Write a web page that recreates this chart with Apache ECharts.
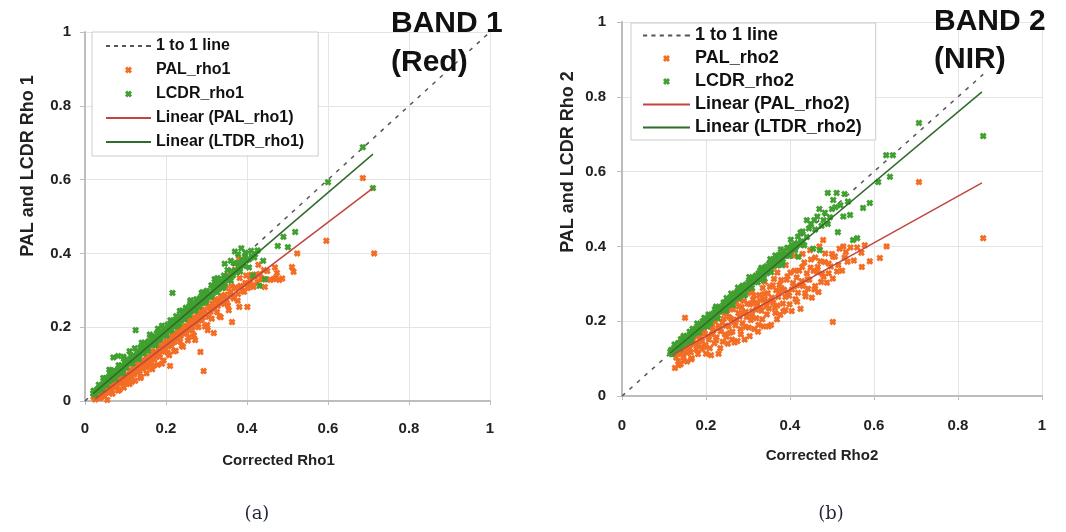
<!DOCTYPE html>
<html>
<head>
<meta charset="utf-8">
<script src="https://cdn.jsdelivr.net/npm/echarts/dist/echarts.min.js"></script>
<style>
html,body{margin:0;padding:0;background:#fff;}
#chart{width:1066px;height:532px;}
</style>
</head>
<body>
<div id="chart"></div>
<script>
// ---------- Panel (a): BAND 1 (Red) ----------
var oneToOneA = [[0, 0], [1, 1]];
var palRho1 = [
[0.022,0.010],[0.025,0.004],[0.028,0.016],[0.031,0.012],[0.034,0.020],[0.037,0.008],[0.040,0.018],[0.043,0.026],[0.046,0.015],[0.049,0.030],
[0.052,0.022],[0.055,0.003],[0.056,0.034],[0.059,0.026],[0.062,0.040],[0.065,0.030],[0.068,0.020],[0.070,0.044],[0.073,0.036],[0.076,0.052],
[0.079,0.040],[0.082,0.028],[0.084,0.058],[0.087,0.047],[0.090,0.062],[0.093,0.050],[0.096,0.036],[0.098,0.068],[0.101,0.056],[0.104,0.072],
[0.107,0.060],[0.110,0.046],[0.112,0.080],[0.115,0.066],[0.118,0.085],[0.121,0.072],[0.124,0.055],[0.126,0.090],[0.129,0.078],[0.132,0.096],
[0.135,0.082],[0.138,0.066],[0.140,0.102],[0.143,0.088],[0.146,0.108],[0.149,0.094],[0.152,0.075],[0.154,0.114],[0.157,0.100],[0.160,0.120],
[0.163,0.106],[0.166,0.086],[0.168,0.128],[0.171,0.112],[0.174,0.134],[0.177,0.120],[0.180,0.098],[0.182,0.140],[0.185,0.126],[0.188,0.148],
[0.191,0.134],[0.194,0.110],[0.196,0.156],[0.199,0.140],[0.202,0.162],[0.205,0.148],[0.208,0.124],[0.210,0.095],[0.212,0.170],[0.215,0.156],
[0.218,0.176],[0.221,0.160],[0.224,0.136],[0.227,0.184],[0.230,0.168],[0.233,0.190],[0.236,0.176],[0.239,0.150],[0.242,0.198],[0.245,0.182],
[0.248,0.204],[0.251,0.190],[0.254,0.164],[0.257,0.212],[0.260,0.196],[0.263,0.218],[0.266,0.204],[0.269,0.178],[0.272,0.226],[0.275,0.210],
[0.278,0.232],[0.281,0.218],[0.285,0.133],[0.288,0.240],[0.291,0.226],[0.293,0.081],[0.295,0.248],[0.298,0.234],[0.302,0.206],[0.303,0.192],
[0.306,0.256],[0.310,0.242],[0.314,0.264],[0.318,0.184],[0.320,0.250],[0.324,0.272],[0.328,0.258],[0.332,0.230],[0.336,0.280],[0.340,0.266],
[0.345,0.288],[0.350,0.274],[0.355,0.246],[0.360,0.296],[0.363,0.214],[0.366,0.282],[0.372,0.305],[0.378,0.290],[0.381,0.255],[0.384,0.312],
[0.390,0.298],[0.396,0.320],[0.401,0.255],[0.402,0.306],[0.408,0.328],[0.414,0.314],[0.420,0.336],[0.426,0.322],[0.432,0.344],[0.438,0.330],
[0.444,0.309],[0.450,0.352],[0.458,0.328],[0.465,0.330],[0.470,0.333],[0.474,0.347],[0.480,0.328],[0.487,0.332],[0.469,0.362],[0.511,0.363],
[0.515,0.350],[0.524,0.400],[0.596,0.434],[0.686,0.604],[0.714,0.400],
[0.100,0.095],[0.150,0.140],[0.200,0.195],[0.250,0.240],[0.300,0.290],[0.350,0.340],[0.380,0.385],[0.330,0.318],[0.370,0.356],
[0.021,0.012],[0.027,0.008],[0.033,0.024],[0.038,0.008],[0.044,0.028],[0.048,0.012],[0.053,0.042],[0.058,0.028],[0.063,0.042],[0.067,0.020],
[0.071,0.053],[0.075,0.038],[0.080,0.053],[0.085,0.030],[0.088,0.071],[0.092,0.055],[0.097,0.072],[0.100,0.050],[0.103,0.089],[0.108,0.063],
[0.111,0.081],[0.116,0.052],[0.119,0.093],[0.123,0.082],[0.127,0.106],[0.131,0.078],[0.134,0.097],[0.137,0.062],[0.142,0.111],[0.145,0.097],
[0.148,0.130],[0.153,0.091],[0.156,0.117],[0.161,0.106],[0.164,0.135],[0.169,0.095],[0.172,0.128],[0.176,0.124],[0.179,0.152],[0.183,0.120],
[0.187,0.146],[0.190,0.101],[0.193,0.156],[0.197,0.139],[0.201,0.176],[0.204,0.131],[0.209,0.161],[0.213,0.149],[0.217,0.180],[0.220,0.135],
[0.223,0.177],[0.227,0.169],[0.231,0.197],[0.235,0.161],[0.238,0.186],[0.242,0.147],[0.246,0.199],[0.250,0.184],[0.253,0.221],[0.257,0.173],
[0.261,0.202],[0.265,0.191],[0.268,0.224],[0.272,0.165],[0.276,0.219],[0.280,0.200],[0.284,0.242],[0.288,0.218],[0.292,0.237],[0.296,0.202],
[0.300,0.264],[0.305,0.228],[0.309,0.254],[0.313,0.223],[0.318,0.252],[0.322,0.276],[0.326,0.241],[0.331,0.267],[0.335,0.227],[0.339,0.284],
[0.344,0.263],[0.348,0.306],[0.353,0.259],[0.358,0.289],[0.362,0.311],[0.367,0.278],[0.372,0.308],[0.377,0.272],[0.382,0.333],[0.387,0.308],
[0.393,0.296],[0.398,0.340],[0.404,0.316],[0.410,0.342],[0.416,0.309],[0.422,0.343],[0.428,0.369],[0.435,0.333],[0.442,0.355],[0.448,0.330]
];
var lcdrRho1 = [
[0.020,0.021],[0.024,0.020],[0.027,0.028],[0.030,0.031],[0.033,0.029],[0.036,0.036],[0.038,0.040],[0.041,0.037],[0.044,0.045],[0.046,0.048],
[0.049,0.044],[0.052,0.052],[0.055,0.056],[0.057,0.060],[0.060,0.054],[0.063,0.062],[0.065,0.068],[0.068,0.064],[0.071,0.070],[0.073,0.075],
[0.076,0.079],[0.079,0.072],[0.081,0.080],[0.084,0.086],[0.087,0.083],[0.089,0.090],[0.092,0.095],[0.095,0.088],[0.097,0.094],[0.100,0.101],
[0.103,0.099],[0.106,0.107],[0.108,0.111],[0.111,0.103],[0.114,0.110],[0.116,0.116],[0.119,0.121],[0.122,0.113],[0.124,0.118],[0.127,0.125],
[0.130,0.130],[0.132,0.122],[0.135,0.129],[0.138,0.136],[0.140,0.140],[0.143,0.131],[0.146,0.139],[0.149,0.146],[0.151,0.150],[0.154,0.142],
[0.157,0.150],[0.159,0.155],[0.162,0.160],[0.165,0.153],[0.168,0.159],[0.170,0.165],[0.173,0.170],[0.176,0.162],[0.178,0.168],[0.181,0.174],
[0.184,0.179],[0.187,0.171],[0.189,0.178],[0.192,0.184],[0.195,0.190],[0.198,0.181],[0.200,0.188],[0.203,0.195],[0.206,0.199],[0.209,0.190],
[0.212,0.198],[0.215,0.205],[0.218,0.209],[0.221,0.201],[0.224,0.208],[0.227,0.216],[0.230,0.219],[0.233,0.210],[0.236,0.218],[0.239,0.226],
[0.242,0.231],[0.245,0.222],[0.248,0.230],[0.251,0.238],[0.254,0.242],[0.257,0.233],[0.260,0.241],[0.263,0.250],[0.266,0.254],[0.270,0.246],
[0.273,0.252],[0.276,0.262],[0.279,0.265],[0.282,0.256],[0.286,0.264],[0.289,0.274],[0.292,0.278],[0.296,0.268],[0.299,0.276],[0.303,0.287],
[0.306,0.290],[0.310,0.281],[0.314,0.289],[0.318,0.300],[0.322,0.305],[0.326,0.295],[0.330,0.303],[0.334,0.315],[0.338,0.320],[0.342,0.311],
[0.346,0.318],[0.350,0.331],[0.355,0.336],[0.360,0.326],[0.365,0.340],[0.370,0.352],[0.375,0.348],[0.380,0.360],[0.386,0.372],[0.392,0.366],
[0.398,0.380],[0.405,0.384],[0.412,0.392],[0.420,0.398],
[0.045,0.062],[0.060,0.085],[0.070,0.118],[0.082,0.122],[0.095,0.120],[0.110,0.135],[0.125,0.192],[0.140,0.158],[0.160,0.180],[0.180,0.196],
[0.216,0.293],[0.240,0.245],[0.260,0.270],[0.290,0.295],[0.320,0.330],[0.345,0.372],[0.360,0.380],[0.370,0.405],[0.386,0.414],[0.378,0.398],
[0.395,0.392],[0.405,0.362],[0.415,0.340],[0.431,0.312],[0.444,0.330],[0.440,0.380],[0.476,0.420],[0.501,0.417],[0.519,0.458],[0.490,0.445],
[0.600,0.593],[0.686,0.688],[0.711,0.577],
[0.021,0.028],[0.026,0.017],[0.034,0.044],[0.039,0.039],[0.043,0.031],[0.048,0.061],[0.051,0.053],[0.054,0.045],[0.058,0.065],[0.062,0.079],
[0.066,0.058],[0.069,0.072],[0.072,0.083],[0.075,0.061],[0.078,0.077],[0.083,0.097],[0.086,0.079],[0.090,0.096],[0.093,0.075],[0.096,0.114],
[0.099,0.099],[0.102,0.091],[0.105,0.112],[0.109,0.104],[0.113,0.124],[0.117,0.102],[0.120,0.122],[0.123,0.143],[0.126,0.115],[0.129,0.133],
[0.133,0.114],[0.137,0.145],[0.141,0.137],[0.144,0.128],[0.147,0.158],[0.150,0.149],[0.155,0.136],[0.158,0.163],[0.161,0.152],[0.164,0.176],
[0.167,0.152],[0.171,0.171],[0.174,0.151],[0.177,0.183],[0.180,0.172],[0.183,0.166],[0.186,0.188],[0.190,0.204],[0.193,0.179],[0.197,0.194],
[0.201,0.177],[0.204,0.207],[0.207,0.199],[0.211,0.219],[0.214,0.193],[0.219,0.217],[0.222,0.210],[0.225,0.230],[0.228,0.204],[0.231,0.224],
[0.234,0.244],[0.237,0.219],[0.240,0.239],[0.243,0.230],[0.246,0.222],[0.249,0.253],[0.252,0.243],[0.255,0.234],[0.258,0.257],[0.261,0.273],
[0.264,0.245],[0.268,0.262],[0.272,0.245],[0.275,0.276],[0.278,0.264],[0.281,0.257],[0.284,0.279],[0.288,0.293],[0.291,0.272],[0.294,0.284],
[0.298,0.268],[0.301,0.299],[0.305,0.291],[0.309,0.283],[0.312,0.314],[0.316,0.306],[0.320,0.296],[0.323,0.317],[0.327,0.333],[0.331,0.308],
[0.335,0.325],[0.339,0.306],[0.343,0.340],[0.347,0.330],[0.352,0.355],[0.357,0.329],[0.362,0.352],[0.367,0.374],[0.372,0.352],[0.377,0.374],
[0.383,0.351],[0.389,0.381],[0.396,0.402],[0.403,0.385],[0.410,0.407],[0.418,0.389],[0.426,0.408]
];
var palFit1 = [[0.025, 0.005], [0.711, 0.577]];
var lcdrFit1 = [[0.020, 0.020], [0.711, 0.669]];

// ---------- Panel (b): BAND 2 (NIR) ----------
var oneToOneB = [[0, 0], [0.86, 0.86]];
var palRho2 = [
[0.126,0.127],[0.129,0.103],[0.131,0.125],[0.134,0.093],[0.137,0.142],[0.139,0.123],[0.142,0.118],[0.145,0.156],[0.147,0.095],[0.150,0.139],
[0.153,0.135],[0.155,0.115],[0.158,0.150],[0.161,0.127],[0.163,0.162],[0.166,0.101],[0.169,0.147],[0.171,0.139],[0.174,0.178],[0.177,0.124],
[0.179,0.161],[0.182,0.137],[0.185,0.152],[0.187,0.171],[0.190,0.125],[0.192,0.172],[0.195,0.131],[0.197,0.167],[0.200,0.113],[0.202,0.193],
[0.205,0.160],[0.207,0.151],[0.210,0.212],[0.212,0.109],[0.215,0.183],[0.217,0.174],[0.220,0.141],[0.222,0.198],[0.225,0.157],[0.227,0.215],
[0.230,0.113],[0.232,0.186],[0.235,0.173],[0.237,0.236],[0.240,0.145],[0.242,0.206],[0.245,0.165],[0.247,0.188],[0.250,0.220],[0.252,0.140],
[0.255,0.211],[0.257,0.169],[0.260,0.206],[0.262,0.151],[0.265,0.232],[0.267,0.198],[0.270,0.189],[0.272,0.251],[0.275,0.147],[0.277,0.222],
[0.280,0.212],[0.282,0.179],[0.285,0.237],[0.287,0.195],[0.290,0.254],[0.292,0.151],[0.295,0.225],[0.297,0.211],[0.300,0.275],[0.302,0.183],
[0.305,0.245],[0.307,0.203],[0.310,0.227],[0.312,0.258],[0.315,0.179],[0.317,0.249],[0.320,0.208],[0.322,0.244],[0.325,0.190],[0.327,0.270],
[0.330,0.237],[0.332,0.228],[0.335,0.289],[0.337,0.186],[0.340,0.260],[0.342,0.251],[0.345,0.218],[0.347,0.275],[0.350,0.234],[0.352,0.292],
[0.355,0.190],[0.357,0.263],[0.360,0.250],[0.362,0.313],[0.365,0.222],[0.367,0.283],[0.370,0.242],[0.372,0.265],[0.375,0.297],[0.377,0.217],
[0.380,0.288],[0.383,0.247],[0.386,0.284],[0.389,0.230],[0.392,0.311],[0.395,0.277],[0.398,0.268],[0.401,0.330],[0.404,0.227],[0.407,0.302],
[0.410,0.293],[0.413,0.259],[0.416,0.317],[0.419,0.276],[0.422,0.335],[0.425,0.233],[0.428,0.307],[0.431,0.294],[0.434,0.357],[0.437,0.266],
[0.440,0.328],[0.443,0.287],[0.446,0.311],[0.449,0.343],[0.452,0.263],[0.456,0.335],[0.460,0.294],[0.464,0.332],[0.468,0.278],[0.472,0.360],
[0.476,0.327],[0.480,0.319],[0.484,0.381],[0.488,0.303],[0.492,0.354],[0.497,0.346],[0.502,0.314],[0.507,0.373],[0.512,0.333],[0.518,0.394],
[0.524,0.335],[0.530,0.370],[0.537,0.359],[0.544,0.397],[0.552,0.362],[0.560,0.397],[0.570,0.383],[0.578,0.403],
[0.210,0.200],[0.250,0.233],[0.280,0.258],[0.310,0.280],[0.340,0.305],[0.370,0.330],[0.390,0.350],[0.410,0.375],[0.430,0.380],[0.360,0.345],[0.380,0.375],
[0.140,0.085],[0.155,0.092],[0.165,0.098],
[0.150,0.209],[0.126,0.075],[0.135,0.082],[0.502,0.198],[0.448,0.390],[0.470,0.400],[0.479,0.417],[0.571,0.345],[0.614,0.369],[0.630,0.400],
[0.707,0.572],[0.860,0.422],[0.527,0.400],[0.460,0.370],[0.500,0.380],[0.590,0.360],
[0.133,0.112],[0.140,0.131],[0.146,0.108],[0.152,0.124],[0.159,0.141],[0.164,0.117],[0.170,0.158],[0.176,0.139],[0.181,0.112],[0.186,0.165],
[0.191,0.147],[0.196,0.176],[0.199,0.136],[0.204,0.186],[0.209,0.128],[0.214,0.165],[0.219,0.205],[0.224,0.149],[0.229,0.181],[0.234,0.128],
[0.239,0.196],[0.244,0.222],[0.249,0.158],[0.254,0.186],[0.259,0.232],[0.263,0.172],[0.268,0.143],[0.273,0.204],[0.278,0.239],[0.283,0.165],
[0.289,0.222],[0.294,0.185],[0.299,0.247],[0.304,0.160],[0.309,0.214],[0.314,0.268],[0.319,0.231],[0.324,0.172],[0.329,0.256],[0.334,0.205],
[0.339,0.273],[0.344,0.240],[0.349,0.186],[0.354,0.255],[0.359,0.296],[0.364,0.236],[0.369,0.205],[0.374,0.279],[0.379,0.310],[0.384,0.226],
[0.389,0.265],[0.394,0.320],[0.399,0.245],[0.405,0.285],[0.411,0.335],[0.417,0.252],[0.423,0.296],[0.429,0.345],[0.436,0.275],[0.442,0.312],
[0.450,0.365],[0.458,0.285],[0.466,0.345],[0.474,0.305],[0.483,0.358],[0.492,0.328],[0.503,0.372],[0.515,0.350],[0.533,0.385]
];
var lcdrRho2 = [
[0.115,0.118],[0.118,0.112],[0.121,0.124],[0.124,0.118],[0.127,0.128],[0.130,0.126],[0.133,0.134],[0.136,0.130],[0.139,0.140],[0.142,0.137],
[0.145,0.146],[0.148,0.141],[0.151,0.152],[0.154,0.149],[0.157,0.158],[0.160,0.153],[0.163,0.165],[0.166,0.160],[0.169,0.170],[0.172,0.166],
[0.175,0.177],[0.178,0.171],[0.181,0.182],[0.184,0.179],[0.187,0.189],[0.190,0.184],[0.193,0.195],[0.196,0.190],[0.199,0.201],[0.202,0.195],
[0.205,0.207],[0.208,0.203],[0.211,0.214],[0.214,0.207],[0.217,0.219],[0.220,0.214],[0.223,0.226],[0.226,0.219],[0.229,0.231],[0.232,0.226],
[0.235,0.238],[0.238,0.231],[0.241,0.243],[0.244,0.238],[0.247,0.250],[0.250,0.243],[0.253,0.256],[0.256,0.250],[0.259,0.262],[0.262,0.255],
[0.265,0.268],[0.268,0.261],[0.271,0.274],[0.274,0.267],[0.277,0.280],[0.280,0.273],[0.283,0.286],[0.286,0.279],[0.289,0.292],[0.292,0.285],
[0.295,0.298],[0.298,0.291],[0.301,0.304],[0.304,0.297],[0.307,0.310],[0.310,0.303],[0.313,0.316],[0.316,0.309],[0.319,0.322],[0.322,0.315],
[0.325,0.328],[0.328,0.321],[0.331,0.334],[0.334,0.327],[0.337,0.340],[0.340,0.333],[0.344,0.347],[0.348,0.339],[0.352,0.355],[0.356,0.347],
[0.360,0.362],[0.364,0.354],[0.368,0.370],[0.372,0.362],[0.376,0.378],[0.380,0.370],[0.385,0.387],[0.390,0.379],[0.395,0.396],[0.400,0.388],
[0.406,0.400],[0.412,0.395],[0.418,0.408],[0.424,0.404],[0.430,0.412],
[0.117,0.123],[0.120,0.112],[0.125,0.138],[0.129,0.125],[0.134,0.142],[0.138,0.126],[0.143,0.145],[0.147,0.161],[0.152,0.143],[0.156,0.156],
[0.161,0.172],[0.165,0.150],[0.170,0.174],[0.174,0.169],[0.179,0.194],[0.183,0.170],[0.188,0.189],[0.192,0.200],[0.197,0.187],[0.201,0.197],
[0.206,0.218],[0.210,0.194],[0.215,0.217],[0.219,0.210],[0.224,0.239],[0.228,0.208],[0.233,0.232],[0.237,0.230],[0.242,0.250],[0.246,0.230],
[0.251,0.253],[0.255,0.243],[0.260,0.274],[0.264,0.244],[0.269,0.265],[0.273,0.277],[0.278,0.262],[0.282,0.274],[0.287,0.295],[0.291,0.269],
[0.296,0.293],[0.300,0.287],[0.305,0.314],[0.309,0.289],[0.314,0.308],[0.318,0.320],[0.323,0.304],[0.327,0.315],[0.332,0.343],[0.336,0.310],
[0.341,0.337],[0.345,0.328],[0.350,0.353],[0.355,0.331],[0.360,0.350],[0.365,0.376],[0.370,0.349],[0.375,0.372],[0.381,0.350],[0.387,0.374],
[0.393,0.396],[0.399,0.374],[0.405,0.403],[0.412,0.390],[0.419,0.426],[0.426,0.413],[0.434,0.403],
[0.420,0.372],[0.440,0.470],[0.455,0.394],[0.471,0.390],[0.490,0.543],[0.503,0.524],[0.511,0.543],[0.514,0.438],[0.527,0.480],[0.543,0.484],
[0.550,0.417],[0.560,0.422],[0.574,0.503],[0.590,0.516],[0.610,0.572],[0.638,0.586],[0.629,0.644],[0.645,0.644],[0.707,0.730],[0.860,0.695],
[0.450,0.460],[0.465,0.480],[0.480,0.470],[0.470,0.500],[0.500,0.500],[0.520,0.510],[0.530,0.540],[0.430,0.440],[0.440,0.425],[0.460,0.445],[0.490,0.460],
[0.140,0.152],[0.168,0.180],[0.196,0.209],[0.221,0.232],[0.249,0.262],[0.276,0.290],[0.303,0.318],[0.329,0.336],[0.353,0.366],[0.378,0.392],
[0.402,0.418],[0.425,0.437],[0.158,0.146],[0.203,0.186],[0.248,0.228],[0.293,0.270],[0.338,0.315],[0.383,0.358],[0.415,0.400],[0.445,0.448],
[0.458,0.470],[0.475,0.455],[0.483,0.490],[0.495,0.478],[0.508,0.505],[0.538,0.520]
];
var palFit2 = [[0.120, 0.110], [0.857, 0.570]];
var lcdrFit2 = [[0.115, 0.115], [0.857, 0.813]];

var namesA = ['1 to 1 line', 'PAL_rho1', 'LCDR_rho1', 'Linear (PAL_rho1)', 'Linear (LTDR_rho1)'];
var namesB = ['1 to 1 line ', 'PAL_rho2', 'LCDR_rho2', 'Linear (PAL_rho2)', 'Linear (LTDR_rho2)'];

var ORANGE = '#f36d25', GREEN = '#40a030', RED = '#c0463f', DKGREEN = '#2f6b2b', DASH = '#555555';
var XMARK = 'path://M0,3 L3,0 L5,2 L7,0 L10,3 L8,5 L10,7 L7,10 L5,8 L3,10 L0,7 L2,5 Z';
var SOLID_ICON = 'path://M0,0 L45,0 L45,2 L0,2 Z';
var DASH_ICON = 'path://M0,0h4v2h-4z M8,0h4v2h-4z M16,0h4v2h-4z M24,0h4v2h-4z M32,0h4v2h-4z M40,0h5v2h-5z';
var FONT = 'Liberation Sans, Arial, sans-serif';

function axisX(grid, margin, nm, nmGap, nmPad) {
  return {
    type: 'value', gridIndex: grid, min: 0, max: 1, interval: 0.2,
    axisLine: { show: true, onZero: false, lineStyle: { color: '#bdbdbd', width: 2 } },
    axisTick: { show: true, length: 4, lineStyle: { color: '#bdbdbd' } },
    splitLine: { show: true, lineStyle: { color: '#e4e4e4', width: 1 } },
    axisLabel: { margin: margin, fontSize: 15, fontWeight: 'bold', color: '#222', fontFamily: FONT },
    name: nm, nameLocation: 'middle', nameGap: nmGap,
    nameTextStyle: { fontSize: 15, fontWeight: 'bold', color: '#222', fontFamily: FONT, padding: nmPad }
  };
}
function axisY(grid, margin) {
  return {
    type: 'value', gridIndex: grid, min: 0, max: 1, interval: 0.2,
    axisLine: { show: true, onZero: false, lineStyle: { color: '#bdbdbd', width: 2 } },
    axisTick: { show: true, length: 5, lineStyle: { color: '#bdbdbd' } },
    splitLine: { show: true, lineStyle: { color: '#e4e4e4', width: 1 } },
    axisLabel: { margin: margin, fontSize: 15, fontWeight: 'bold', color: '#222', fontFamily: FONT }
  };
}
function scatter(name, idx, data, color) {
  return { name: name, type: 'scatter', xAxisIndex: idx, yAxisIndex: idx, data: data,
    symbol: XMARK, symbolSize: 7, itemStyle: { color: color, opacity: 1 }, z: 3, silent: true };
}
function line(name, idx, data, color, width, type, z) {
  return { name: name, type: 'line', xAxisIndex: idx, yAxisIndex: idx, data: data,
    symbol: 'none', lineStyle: { color: color, width: width, type: type }, itemStyle: { color: color },
    z: z, silent: true };
}
function legendData(names) {
  return [
    { name: names[0], icon: DASH_ICON },
    { name: names[1] },
    { name: names[2] },
    { name: names[3], icon: SOLID_ICON },
    { name: names[4], icon: SOLID_ICON }
  ];
}

var chart = echarts.init(document.getElementById('chart'), null, { renderer: 'canvas' });
chart.setOption({
  animation: false,
  backgroundColor: '#ffffff',
  grid: [
    { left: 85, top: 32, width: 405, height: 369 },
    { left: 622, top: 22, width: 420, height: 374 }
  ],
  xAxis: [axisX(0, 20, 'Corrected Rho1', 52, [0, 18, 0, 0]), axisX(1, 22, 'Corrected Rho2', 52, [0, 20, 0, 0])],
  yAxis: [axisY(0, 14), axisY(1, 16)],
  title: [
    { text: 'BAND 1\n(Red)', left: 391, top: 4, padding: 0,
      textStyle: { fontSize: 30, fontWeight: 'bold', color: '#111', lineHeight: 39, fontFamily: FONT } },
    { text: 'BAND 2\n(NIR)', left: 934, top: 3, padding: 0,
      textStyle: { fontSize: 30, fontWeight: 'bold', color: '#111', lineHeight: 38, fontFamily: FONT } }
  ],
  legend: [
    { data: legendData(namesA), left: 92, top: 32, orient: 'vertical', backgroundColor: '#fff',
      borderColor: '#cccccc', borderWidth: 1, padding: [5, 14, 5, 14], itemWidth: 45, itemHeight: 7, itemGap: 6,
      selectedMode: false,
      textStyle: { fontSize: 16, fontWeight: 'bold', color: '#111', lineHeight: 18, fontFamily: FONT } },
    { data: legendData(namesB), left: 631, top: 23, orient: 'vertical', backgroundColor: '#fff',
      borderColor: '#cccccc', borderWidth: 1, padding: [3, 14, 3, 12], itemWidth: 47, itemHeight: 7, itemGap: 4,
      selectedMode: false,
      textStyle: { fontSize: 18, fontWeight: 'bold', color: '#111', lineHeight: 19, fontFamily: FONT } }
  ],
  graphic: [
    { type: 'text', x: 28, y: 166, rotation: Math.PI / 2,
      style: { text: 'PAL and LCDR Rho 1', font: 'bold 18px ' + FONT, fill: '#222', textAlign: 'center', textVerticalAlign: 'middle' } },
    { type: 'text', x: 568, y: 162, rotation: Math.PI / 2,
      style: { text: 'PAL and LCDR Rho 2', font: 'bold 18px ' + FONT, fill: '#222', textAlign: 'center', textVerticalAlign: 'middle' } },
    { type: 'text', x: 257, y: 514,
      style: { text: '(a)', font: '18px "DejaVu Serif", "Liberation Serif", serif', fill: '#1f2638', textAlign: 'center', textVerticalAlign: 'middle' } },
    { type: 'text', x: 831, y: 514,
      style: { text: '(b)', font: '18px "DejaVu Serif", "Liberation Serif", serif', fill: '#1f2638', textAlign: 'center', textVerticalAlign: 'middle' } }
  ],
  series: [
    line(namesA[0], 0, oneToOneA, DASH, 1.5, [4, 6], 1),
    scatter(namesA[1], 0, palRho1, ORANGE),
    scatter(namesA[2], 0, lcdrRho1, GREEN),
    line(namesA[3], 0, palFit1, RED, 1.5, 'solid', 5),
    line(namesA[4], 0, lcdrFit1, DKGREEN, 1.5, 'solid', 5),
    line(namesB[0], 1, oneToOneB, DASH, 1.5, [4, 6], 1),
    scatter(namesB[1], 1, palRho2, ORANGE),
    scatter(namesB[2], 1, lcdrRho2, GREEN),
    line(namesB[3], 1, palFit2, RED, 1.5, 'solid', 5),
    line(namesB[4], 1, lcdrFit2, DKGREEN, 1.5, 'solid', 5)
  ]
});
</script>
</body>
</html>
